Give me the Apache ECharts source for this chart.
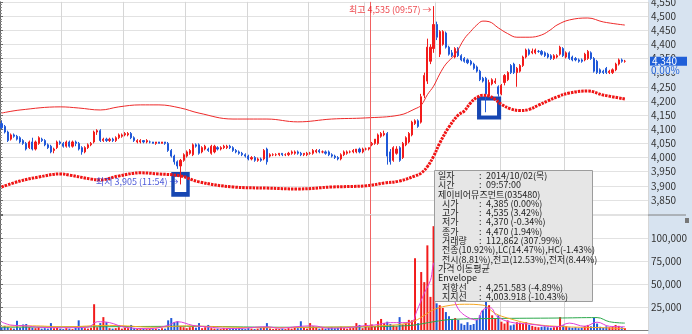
<!DOCTYPE html>
<html><head><meta charset="utf-8">
<script src="https://cdn.jsdelivr.net/npm/echarts/dist/echarts.min.js"></script>
<style>html,body{margin:0;padding:0;background:#fff}#c{width:692px;height:334px}</style>
</head><body><div id="c"></div>
<script>
// ---------------- DATA ----------------
// category slots: 3-minute bars, 10/01 full day + 10/02 morning
const categories = [];
for (let d = 0; d < 2; d++) {
  const n = d === 0 ? 120 : 90;
  for (let k = 0; k < n; k++) {
    const m = 540 + 3 * k;
    categories.push((d ? '10/02 ' : '10/01 ') + String(Math.floor(m / 60)).padStart(2, '0') + ':' + String(m % 60).padStart(2, '0'));
  }
}
// [open, close, low, high]
const candles = [
[4120,4105,4100,4130],[4110,4090,4085,4115],[4090,4060,4055,4095],[4065,4080,4060,4085],[4080,4075,4070,4085],
[4075,4065,4060,4080],[4070,4055,4050,4075],[4060,4050,4045,4065],[4050,4030,4025,4055],[4035,4055,4030,4060],
[4055,4030,4025,4070],[4030,4055,4025,4060],[4050,4070,4045,4075],[4065,4060,4055,4070],[4060,4045,4040,4065],
[4045,4035,4030,4050],[4040,4020,4015,4045],[4025,4030,4015,4035],[4035,4055,4030,4060],[4055,4050,4045,4060],
[4050,4040,4035,4055],[4040,4055,4035,4060],[4055,4040,4035,4060],[4040,4055,4035,4060],[4055,4050,4040,4060],
[4050,4030,4025,4055],[4035,4020,4010,4040],[4020,4035,4015,4040],[4035,4045,4030,4050],[4045,4050,4040,4055],
[4055,4090,4050,4095],[4090,4095,4080,4100],[4095,4060,4055,4100],[4060,4065,4055,4070],[4065,4060,4055,4070],
[4060,4065,4055,4070],[4065,4060,4055,4070],[4060,4070,4055,4075],[4070,4080,4065,4085],[4075,4080,4070,4085],
[4080,4085,4075,4090],[4080,4085,4075,4090],[4085,4070,4065,4090],[4070,4060,4055,4075],[4055,4060,4050,4065],
[4055,4060,4050,4065],[4060,4055,4050,4060],[4055,4060,4050,4065],[4055,4055,4050,4060],[4055,4050,4050,4055],
[4050,4055,4045,4055],[4055,4050,4050,4055],[4050,4055,4050,4055],[4055,4050,4045,4055],[4050,4025,4020,4055],
[4025,4005,4000,4030],[4005,3985,3975,4010],[3985,3970,3960,3990],[3970,3990,3905,3995],[3990,4010,3985,4015],
[4005,4020,4000,4025],[4015,4025,4010,4030],[4010,4045,4005,4050],[4045,4040,4035,4050],[4045,4015,4010,4050],
[4020,4035,4015,4040],[4030,4040,4025,4045],[4030,4025,4020,4035],[4015,4040,4010,4045],[4020,4040,4015,4045],
[4035,4030,4025,4040],[4030,4035,4025,4040],[4035,4040,4030,4045],[4035,4040,4030,4045],[4040,4035,4030,4045],
[4035,4025,4020,4040],[4025,4020,4015,4030],[4020,4015,4010,4025],[4015,4010,4005,4020],[4010,4005,4000,4015],
[4005,3995,3990,4010],[3995,4000,3990,4005],[4000,3990,3985,4005],[3990,3995,3985,4000],[3995,3990,3985,4000],
[3995,4025,3990,4030],[4030,3985,3975,4035],[4005,4010,4000,4015],[4010,4010,4005,4015],[4010,4010,4005,4015],
[4010,4015,4005,4015],[4015,4010,4005,4015],[4010,4010,4005,4015],[4010,4015,4005,4020],[4015,4020,4010,4025],
[4015,4020,4010,4025],[4020,4015,4010,4025],[4015,4010,4005,4020],[4010,4015,4005,4015],[4010,4015,4005,4020],
[4015,4015,4010,4020],[4015,4025,4010,4030],[4020,4025,4015,4030],[4025,4020,4015,4030],[4020,4020,4015,4025],
[4020,4015,4010,4025],[4020,4010,4005,4025],[4010,4005,4000,4015],[4005,4000,3995,4010],[4000,3995,3990,4005],
[3995,4010,3990,4015],[4010,4020,4005,4025],[4015,4020,4010,4025],[4020,4020,4015,4025],[4020,4025,4015,4030],
[4020,4030,4015,4030],[4030,4020,4015,4035],[4020,4030,4015,4035],[4030,4030,4025,4035],[4030,4035,4025,4035],
// day 2
[4045,4050,4040,4055],[4050,4065,4045,4065],[4050,4080,4045,4085],[4075,4085,4070,4090],[4080,4085,4075,4095],
[4085,4005,3975,4090],[4020,3985,3975,4030],[3990,4035,3985,4040],[4015,4030,4010,4040],[4035,3990,3985,4040],
[4000,4050,3995,4055],[4045,4070,4040,4075],[4055,4085,4050,4090],[4080,4125,4075,4130],[4120,4130,4115,4135],
[4130,4110,4105,4135],[4125,4215,4120,4225],[4220,4290,4210,4300],[4270,4390,4260,4420],[4340,4390,4330,4400],
[4385,4470,4370,4535],[4470,4425,4415,4480],[4365,4445,4355,4450],[4400,4445,4395,4450],[4440,4390,4385,4445],
[4390,4365,4360,4395],[4370,4360,4355,4380],[4355,4385,4350,4390],[4385,4360,4355,4390],[4360,4345,4340,4365],
[4350,4340,4335,4355],[4345,4335,4330,4350],[4340,4330,4325,4345],[4330,4315,4310,4335],[4320,4305,4300,4325],
[4305,4275,4270,4310],[4280,4270,4265,4285],[4280,4225,4160,4285],[4220,4265,4215,4275],[4260,4275,4255,4280],
[4265,4270,4260,4280],[4250,4225,4215,4255],[4225,4255,4220,4260],[4265,4290,4255,4295],[4275,4300,4270,4305],
[4325,4300,4295,4330],[4330,4300,4295,4335],[4300,4315,4250,4320],[4305,4325,4300,4330],[4325,4355,4320,4360],
[4355,4380,4350,4385],[4380,4365,4360,4385],[4370,4375,4365,4385],[4370,4380,4365,4385],[4375,4375,4370,4380],
[4375,4365,4360,4380],[4370,4360,4355,4375],[4365,4355,4350,4370],[4360,4350,4345,4365],[4350,4360,4345,4365],
[4355,4360,4350,4365],[4365,4390,4360,4395],[4385,4360,4355,4390],[4355,4370,4350,4375],[4370,4350,4345,4375],
[4355,4345,4340,4360],[4350,4345,4340,4355],[4345,4340,4335,4350],[4345,4340,4335,4350],[4345,4365,4340,4370],
[4350,4375,4345,4380],[4370,4350,4345,4375],[4350,4305,4300,4355],[4340,4300,4295,4345],[4310,4300,4295,4315],
[4305,4300,4295,4310],[4315,4300,4295,4320],[4300,4305,4295,4310],[4300,4310,4295,4315],[4310,4330,4305,4335],
[4330,4345,4325,4350],[4345,4340,4335,4350],[4340,4340,4335,4345]
];
const volumes = [
3000,4500,3000,2000,1500,10000,2500,6000,6500,3000,
2500,2000,3000,1500,2000,1500,7500,2000,2500,1500,
1000,2000,1500,1000,2500,10500,3000,2000,1500,2500,
28000,3000,7500,14000,8500,2000,1500,2000,3000,1500,
2500,2000,5500,2000,1500,1000,1500,1000,1500,1000,
1500,1000,2000,1500,10500,13000,8500,9500,4000,3000,
2000,3000,4500,2500,7500,2000,3000,5500,2000,1500,
1500,1000,2000,1500,1000,2000,1500,2500,1500,1000,
2000,1500,1000,1500,2500,3000,7500,1500,1000,1500,
1000,1500,1000,2000,1500,3000,2000,9500,2500,1500,
7500,4000,3000,1500,2000,1500,2500,3000,2000,2500,
3500,2000,1500,2000,2500,7500,5500,2000,7500,3000,
6000,4000,9500,12000,7500,9000,6500,5000,4000,14000,
6000,8000,11000,10500,78000,7500,63000,52000,92000,36000,
112862,29000,27000,24000,19500,15000,12000,13000,11000,7000,
5500,8500,5500,6500,11000,16000,21500,32500,27000,16000,
13000,16000,9000,7000,10500,5000,6000,8500,8000,6500,
8500,5500,4500,3500,3000,3500,4000,3000,2500,3000,
4000,14000,5000,4000,3000,2500,3000,2000,2500,4500,
5500,4000,13000,7000,3500,2500,4000,3000,3500,5500,
4500,3000,2000
];
// Envelope (bar index, price)
const envUpper = [[0,4157],[6,4168],[19,4179],[25,4175],[32,4168],[38,4179],[45,4186],[51,4186],[58,4175],[64,4157],[75,4136],[86,4136],[96,4126],[107,4136],[118,4140],[129,4150],[134,4172],[136,4185],[138,4222],[140,4252],[142,4295],[144,4330],[147,4365],[150,4420],[152,4445],[154,4468],[156,4482],[158,4480],[161,4458],[164,4438],[167,4425],[171,4425],[175,4433],[178,4452],[180,4468],[184,4486],[190,4493],[195,4479],[202,4468]];
const envLower = [[0,3896],[6,3917],[12,3931],[19,3942],[22,3938],[29,3924],[32,3921],[38,3935],[45,3946],[51,3942],[58,3935],[64,3914],[75,3896],[86,3892],[96,3889],[107,3896],[118,3900],[124,3910],[129,3917],[134,3935],[136,3945],[138,3968],[140,4004],[142,4051],[145,4108],[148,4150],[150,4165],[152,4193],[154,4212],[156,4220],[158,4217],[160,4205],[162,4188],[165,4172],[168,4166],[171,4170],[174,4185],[177,4200],[180,4214],[184,4228],[190,4235],[195,4221],[202,4207]];
// volume moving averages (bar index, volume)
const volMA5 = [[0,8700],[3,5400],[8,4500],[12,3000],[20,2500],[28,3000],[31,9000],[35,8000],[40,3000],[48,1500],[54,5000],[57,9000],[62,5000],[66,3500],[75,1500],[86,3500],[90,2000],[97,4000],[101,4500],[106,2000],[112,2500],[117,4500],[121,5500],[126,8000],[130,8000],[133,9000],[134.5,20000],[137,40000],[139,54000],[140.5,74000],[143,64000],[146,40000],[148,23000],[151,14000],[154,11000],[156,22000],[158.5,24000],[160.5,15000],[165,8500],[171,6500],[180,3500],[184,7500],[189,4000],[193,8500],[197,4000],[202,3500]];
const volMA20 = [[0,4000],[10,4500],[20,3500],[35,5000],[50,3000],[60,4500],[70,3500],[85,2500],[100,3000],[115,3500],[125,5000],[130,6500],[134,10000],[137,16000],[140,22000],[144,26000],[150,28000],[156,27000],[160,18000],[164,13000],[172,6500],[183,3500],[195,2500],[202,1500]];
const volMA60 = [[0,3000],[30,3500],[60,4000],[90,3000],[120,3500],[130,4500],[134,5500],[140,9000],[146,11500],[160,12500],[180,13000],[193,13500],[197,9000],[202,7500]];
const hourBreaks = [20, 40, 60, 80, 100, 118, 141, 162, 183];
const dayBreak = 120;
const boxMarks = [[58, 3905], [158, 4175]];
const extremeTimes = { high: '09:57', low: '11:54' };
const lastChange = '0.00%';
const tipRows = [
  ['일자', '2014/10/02(목)', 0],
  ['시간', '09:57:00', 0],
  ['제이비어뮤즈먼트(035480)', null, 0],
  ['시가', '4,385 (0.00%)', 1],
  ['고가', '4,535 (3.42%)', 1],
  ['저가', '4,370 (-0.34%)', 1],
  ['종가', '4,470 (1.94%)', 1],
  ['거래량', '112,862 (307.99%)', 1],
  ['전종(10.92%),LC(14.47%),HC(-1.43%)', null, 1],
  ['전시(8.81%),전고(12.53%),전저(8.44%)', null, 1],
  ['가격 이동평균', null, 0],
  ['Envelope', null, 0],
  ['저항선', '4,251.583 (-4.89%)', 1],
  ['지지선', '4,003.918 (-10.43%)', 1]
];

// ---------------- STYLE ----------------
const FONT = "'Liberation Sans Narrow','Noto Sans CJK KR',sans-serif";
const UP = '#f21b1b', DN = '#2058d8';
const PANEL = '#d7e3f0';
const fmt = v => Number(v).toLocaleString('en-US');
const half = arr => arr.map(([i, v]) => [i + 0.5, v]);

let hiIdx = 0, loIdx = 0;
candles.forEach((c, i) => { if (c[3] > candles[hiIdx][3]) hiIdx = i; if (c[2] < candles[loIdx][2]) loIdx = i; });

const chart = echarts.init(document.getElementById('c'), null, { renderer: 'canvas' });

const catAxis = (grid, pos) => ({
  type: 'category', gridIndex: grid, data: categories, boundaryGap: true, position: pos,
  axisLabel: { show: false }, axisTick: { show: false },
  axisLine: { show: grid === 1, lineStyle: { color: '#808080', width: 1 } },
  splitLine: { show: true, interval: (idx) => hourBreaks.includes(idx), lineStyle: { color: '#d6d6d6', width: 1 } }
});
const valX = grid => ({ type: 'value', gridIndex: grid, min: 0, max: categories.length, show: false });
const yAx = (grid, min, max, step, hide) => ({
  type: 'value', gridIndex: grid, position: 'right', min, max, interval: step,
  axisLine: { show: true, lineStyle: { color: '#6a6a6a' } },
  axisTick: { show: true, length: 3, lineStyle: { color: '#6a6a6a' } },
  minorTick: { show: true, splitNumber: 5, length: 2, lineStyle: { color: '#8a8a8a' } },
  splitLine: { show: true, lineStyle: { color: '#e2e2e2', width: 1 } },
  axisLabel: { margin: 3, fontSize: 10, fontFamily: FONT, color: '#333', formatter: v => hide(v) ? '' : fmt(v) }
});

const option = {
  animation: false,
  grid: [
    { left: 0, right: 44, top: 1.85, height: 212.3, outerBoundsMode: 'none' },
    { left: 0, right: 44, top: 215, bottom: 4, outerBoundsMode: 'none' }
  ],
  xAxis: [catAxis(0, 'bottom'), catAxis(1, 'top'), valX(0), valX(1)],
  yAxis: [
    yAx(0, 3800, 4550, 50, v => v < 3850),
    yAx(1, 0, 125000, 25000, v => v <= 0 || v > 100000)
  ],
  series: [
    {
      type: 'scatter', xAxisIndex: 2, yAxisIndex: 0, z: 1, silent: true,
      data: boxMarks.map(([i, p], k) => ({ value: [i + 0.5, p], symbolSize: k === 0 ? [15, 20] : [20, 19] })),
      symbol: 'rect', itemStyle: { color: '#ffffff', borderColor: '#1646b2', borderWidth: 4, opacity: 1 }
    },
    {
      type: 'candlestick', xAxisIndex: 0, yAxisIndex: 0, data: candles, barWidth: 1.6, z: 3,
      itemStyle: { color: UP, color0: DN, borderColor: UP, borderColor0: DN, borderWidth: 1 }
    },
    {
      type: 'line', xAxisIndex: 2, yAxisIndex: 0, data: half(envUpper), smooth: 0.4, showSymbol: false, z: 4,
      lineStyle: { color: '#ee2a2a', width: 1 }
    },
    {
      type: 'line', xAxisIndex: 2, yAxisIndex: 0, data: half(envLower), smooth: 0.4, showSymbol: false, z: 4,
      lineStyle: { color: '#f01414', width: 3, type: [2.5, 1] },
      markLine: { silent: true, symbol: 'none', label: { show: false }, lineStyle: { color: '#f06060', width: 1, type: 'solid' }, data: [{ xAxis: dayBreak }] }
    },
    {
      type: 'scatter', xAxisIndex: 0, yAxisIndex: 0, symbolSize: 0, z: 6, silent: true,
      data: [
        { value: [hiIdx, candles[hiIdx][3]], label: { show: true, position: 'left', distance: 2, offset: [0, 3], color: '#e8191f', fontSize: 9, fontFamily: FONT, formatter: '최고 ' + fmt(candles[hiIdx][3]) + ' (' + extremeTimes.high + ') →' } },
        { value: [loIdx, candles[loIdx][2]], label: { show: true, position: 'left', distance: 2, offset: [0, -3], color: '#1f2fd0', fontSize: 9, fontFamily: FONT, formatter: '최저 ' + fmt(candles[loIdx][2]) + ' (' + extremeTimes.low + ') →' } }
      ]
    },
    {
      type: 'bar', xAxisIndex: 1, yAxisIndex: 1, barWidth: 2, z: 2,
      data: volumes.map((v, i) => ({ value: v, itemStyle: { color: candles[i][1] >= candles[i][0] ? UP : DN } }))
    },
    {
      type: 'line', xAxisIndex: 3, yAxisIndex: 1, data: half(volMA60), smooth: 0.4, showSymbol: false, z: 4,
      lineStyle: { color: '#2aa84a', width: 1 }
    },
    {
      type: 'line', xAxisIndex: 3, yAxisIndex: 1, data: half(volMA20), smooth: 0.4, showSymbol: false, z: 4,
      lineStyle: { color: '#f5a623', width: 1 }
    },
    {
      type: 'line', xAxisIndex: 3, yAxisIndex: 1, data: half(volMA5), smooth: 0.4, showSymbol: false, z: 4,
      lineStyle: { color: '#e040d8', width: 1 },
      markLine: { silent: true, symbol: 'none', label: { show: false }, lineStyle: { color: '#f06060', width: 1, type: 'solid' }, data: [{ xAxis: dayBreak }] }
    }
  ]
};
chart.setOption(option);

// graphics: axis panel background, last-price tag, data window
const lastClose = candles[candles.length - 1][1];
const tagY = chart.convertToPixel({ yAxisIndex: 0 }, lastClose);
const axisX = chart.convertToPixel({ xAxisIndex: 2 }, categories.length);
const sepY = chart.convertToPixel({ yAxisIndex: 1 }, 125000);
const gfx = [
  { type: 'rect', z: -10, silent: true, shape: { x: axisX, y: 0, width: 692 - axisX, height: 334 }, style: { fill: PANEL } },
  { type: 'line', z: 40, silent: true, shape: { x1: axisX, y1: sepY, x2: 686, y2: sepY }, style: { stroke: '#808080', lineWidth: 1 } },
  { type: 'rect', z: 50, silent: true, shape: { x: axisX + 2, y: tagY - 4.5, width: 37, height: 9 }, style: { fill: '#1f5fd8' } },
  { type: 'text', z: 51, silent: true, style: { x: axisX + 4, y: tagY, text: fmt(lastClose), fill: '#fff', font: '10px ' + FONT, verticalAlign: 'middle' } },
  { type: 'rect', z: 50, silent: true, shape: { x: axisX + 2, y: tagY + 4.5, width: 26, height: 8 }, style: { fill: PANEL } },
  { type: 'text', z: 51, silent: true, style: { x: axisX + 3, y: tagY + 9, text: lastChange, fill: '#1f5fd8', font: '10px ' + FONT, verticalAlign: 'middle' } },
  { type: 'rect', z: 50, silent: true, shape: { x: 685, y: 218, width: 4, height: 5 }, style: { fill: '#777' } },
  { type: 'rect', z: 100, silent: true, shape: { x: 434.5, y: 170.5, width: 158, height: 131 }, style: { fill: '#e6e6e6', stroke: '#9c9c9c', lineWidth: 1 } }
];
tipRows.forEach(([label, value, indent], r) => {
  const y = 175.5 + r * 9.3;
  gfx.push({ type: 'text', z: 101, silent: true, style: { x: indent ? 442 : 438, y, text: label, fill: '#222', font: '9px ' + FONT, verticalAlign: 'middle' } });
  if (value !== null) {
    gfx.push({ type: 'text', z: 101, silent: true, style: { x: 479, y, text: ':', fill: '#222', font: '9px ' + FONT, verticalAlign: 'middle' } });
    gfx.push({ type: 'text', z: 101, silent: true, style: { x: 486, y, text: value, fill: '#222', font: '9px ' + FONT, verticalAlign: 'middle' } });
  }
});
chart.setOption({ graphic: gfx });
</script></body></html>
